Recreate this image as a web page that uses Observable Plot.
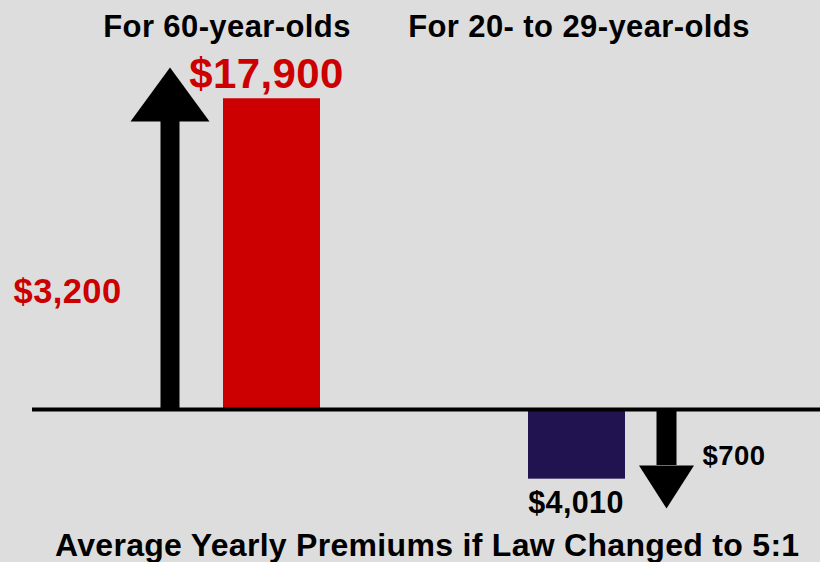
<!DOCTYPE html>
<html><head><meta charset="utf-8">
<script src="https://cdn.jsdelivr.net/npm/d3@7"></script>
<script src="https://cdn.jsdelivr.net/npm/@observablehq/plot@0.6"></script>
<style>
html,body{margin:0;padding:0;background:#dddddd;}
#chart{width:820px;height:562px;overflow:hidden;font-family:"Liberation Sans",Arial,sans-serif;}
#chart svg{display:block;}
#chart svg text{letter-spacing:0.4px;}
#caption{font:bold 32px/32px "Liberation Sans",Arial,sans-serif;letter-spacing:0.3px;color:#000;padding-left:55px;white-space:nowrap;}
</style></head><body>
<div id="chart"></div>
<script>
// ---- data ----
const groups = ["For 60-year-olds", "For 20- to 29-year-olds"];
const premiums = [17900, 4010];
const changes = [3200, -700];
const captionText = "Average Yearly Premiums if Law Changed to 5:1";

// ---- build ----
const data = groups.map((g, i) => ({group: g, premium: premiums[i], change: changes[i], dir: Math.sign(changes[i])}));
const fmt = d3.format("$,");
const up = data.filter(d => d.dir > 0);
const down = data.filter(d => d.dir < 0);
const yDomain = [-5700, 19700];
const FONT = "'Liberation Sans', Arial, sans-serif";

function head(w, h, pointUp) {
  const s = pointUp ? 1 : -1;
  return {draw(ctx) { ctx.moveTo(0, 0); ctx.lineTo(w / 2, s * h); ctx.lineTo(-w / 2, s * h); ctx.closePath(); }};
}

const chart = Plot.plot({
  width: 820, height: 529,
  marginLeft: 32, marginRight: 0, marginTop: 67, marginBottom: 21,
  style: {background: "#dddddd", fontFamily: FONT, overflow: "visible"},
  x: {type: "band", domain: groups, range: [222, 625], paddingInner: 0.683, paddingOuter: 0, axis: null},
  y: {domain: yDomain, axis: null},
  color: {domain: groups, range: ["#cc0000", "#211250"]},
  marks: [
    Plot.barY(data, {x: "group", y: d => d.dir * d.premium, fill: "group"}),
    Plot.ruleY([0], {stroke: "black", strokeWidth: 4}),
    // up arrow
    Plot.ruleX(up, {x: "group", y1: () => yDomain[1], y2: () => 0, dx: -102, stroke: "black", strokeWidth: 19, insetTop: 54}),
    Plot.dot(up, {x: "group", frameAnchor: "top", dx: -102, r: 10, symbol: head(79, 54, true), fill: "black", stroke: "none"}),
    // down arrow
    Plot.ruleX(down, {x: "group", y1: () => 0, y2: () => yDomain[0], dx: 89.5, stroke: "black", strokeWidth: 20, insetBottom: 43}),
    Plot.dot(down, {x: "group", frameAnchor: "bottom", dx: 89.5, r: 10, symbol: head(55, 43, false), fill: "black", stroke: "none"}),
    // premium labels
    Plot.text(up, {x: "group", y: d => d.premium, text: d => fmt(d.premium), lineAnchor: "bottom", dx: -5.5, dy: -11, fill: "#cc0000", fontSize: 42, fontWeight: "bold"}),
    Plot.text(down, {x: "group", y: d => -d.premium, text: d => fmt(d.premium), lineAnchor: "top", dx: -1, dy: 12, fill: "black", fontSize: 30.5, fontWeight: "bold"}),
    // change labels
    Plot.text(up, {x: "group", y: () => 0, text: d => fmt(Math.abs(d.change)), lineAnchor: "bottom", dx: -204.5, dy: -107, fill: "#cc0000", fontSize: 34.5, fontWeight: "bold"}),
    Plot.text(down, {x: "group", y: () => 0, text: d => fmt(Math.abs(d.change)), lineAnchor: "bottom", dx: 157, dy: 55, fill: "black", fontSize: 27.5, fontWeight: "bold"}),
    // group headers
    Plot.text([groups[0]], {x: d => d, frameAnchor: "top", text: d => d, lineAnchor: "bottom", dx: -45, dy: -31, fill: "black", fontSize: 31, fontWeight: "bold"}),
    Plot.text([groups[1]], {x: d => d, frameAnchor: "top", text: d => d, lineAnchor: "bottom", dx: 2, dy: -31, fill: "black", fontSize: 31, fontWeight: "bold"})
  ]
});
const root = document.getElementById("chart");
root.appendChild(chart);
const cap = document.createElement("div");
cap.id = "caption";
cap.textContent = captionText;
root.appendChild(cap);
</script>
</body></html>
